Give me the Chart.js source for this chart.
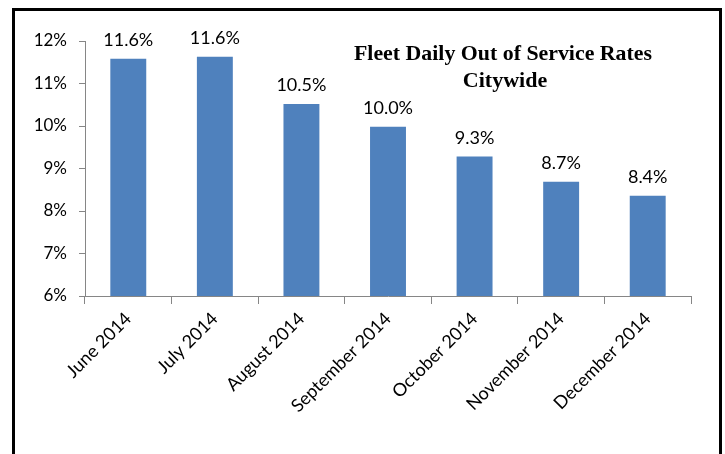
<!DOCTYPE html>
<html>
<head>
  <title>Fleet Daily Out of Service Rates</title>
  <script src="https://cdn.jsdelivr.net/npm/chart.js"></script>
  <style>
    body { margin: 0; background: #fff; }
    #wrap { position: relative; width: 725px; height: 454px; overflow: hidden; }
    #frame { position: absolute; left: 12px; top: 8px; width: 704px; height: 500px; border: 3px solid #000; pointer-events: none; }
  </style>
  <script>
    const months = ['June 2014', 'July 2014', 'August 2014', 'September 2014', 'October 2014', 'November 2014', 'December 2014'];
    const outOfService = [11.58, 11.63, 10.52, 9.98, 9.28, 8.69, 8.36];
    const yTicks = [6, 7, 8, 9, 10, 11, 12];
    const titleLines = ['Fleet Daily Out of Service Rates', 'Citywide'];

    // draws the value above each bar
    const barLabels = {
      id: 'barLabels',
      afterDatasetsDraw(chart) {
        const ctx = chart.ctx;
        const meta = chart.getDatasetMeta(0);
        ctx.save();
        ctx.font = '18px Lato';
        ctx.fillStyle = '#000';
        ctx.textAlign = 'center';
        ctx.textBaseline = 'alphabetic';
        meta.data.forEach((bar, i) => {
          ctx.fillText(outOfService[i].toFixed(1) + '%', bar.x, bar.y - 13);
        });
        ctx.restore();
      }
    };

    const chartTitle = {
      id: 'chartTitle',
      afterDraw(chart) {
        const ctx = chart.ctx;
        ctx.save();
        ctx.font = 'bold 22px "Liberation Serif"';
        ctx.fillStyle = '#000';
        ctx.textAlign = 'center';
        ctx.fillText(titleLines[0], 503, 60, 298);
        ctx.fillText(titleLines[1], 505, 87, 298);
        ctx.restore();
      }
    };

    window.onload = function() {
      const ctx = document.getElementById('myChart').getContext('2d');
      new Chart(ctx, {
        type: 'bar',
        data: {
          labels: months,
          datasets: [{
            data: outOfService,
            backgroundColor: '#4f81bd',
            borderWidth: 0,
            barPercentage: 0.415,
            categoryPercentage: 1
          }]
        },
        options: {
          responsive: false,
          animation: false,
          layout: { padding: { top: 41, right: 34, left: 0, bottom: 0 } },
          plugins: {
            legend: { display: false },
            tooltip: { enabled: false }
          },
          scales: {
            x: {
              offset: true,
              grid: { offset: true, drawOnChartArea: false, color: '#868686', tickLength: 8 },
              border: { color: '#868686', width: 1 },
              ticks: {
                color: '#000',
                font: { family: 'Lato', size: 18 },
                minRotation: 45,
                maxRotation: 45,
                autoSkip: false,
                padding: 4
              },
              afterFit(scale) { scale.height = 158; }
            },
            y: {
              min: 6,
              max: 12,
              afterBuildTicks(scale) { scale.ticks = yTicks.map(v => ({ value: v })); },
              grid: { drawOnChartArea: false, color: '#868686', tickLength: 6 },
              border: { color: '#868686', width: 1 },
              ticks: {
                color: '#000',
                font: { family: 'Lato', size: 17 },
                padding: 12,
                callback: v => v + '%'
              },
              afterFit(scale) { scale.width = 85; }
            }
          }
        },
        plugins: [barLabels, chartTitle]
      });
    };
  </script>
</head>
<body>
<div id="wrap">
  <canvas id="myChart" width="725" height="454"></canvas>
  <div id="frame"></div>
</div>
</body>
</html>
